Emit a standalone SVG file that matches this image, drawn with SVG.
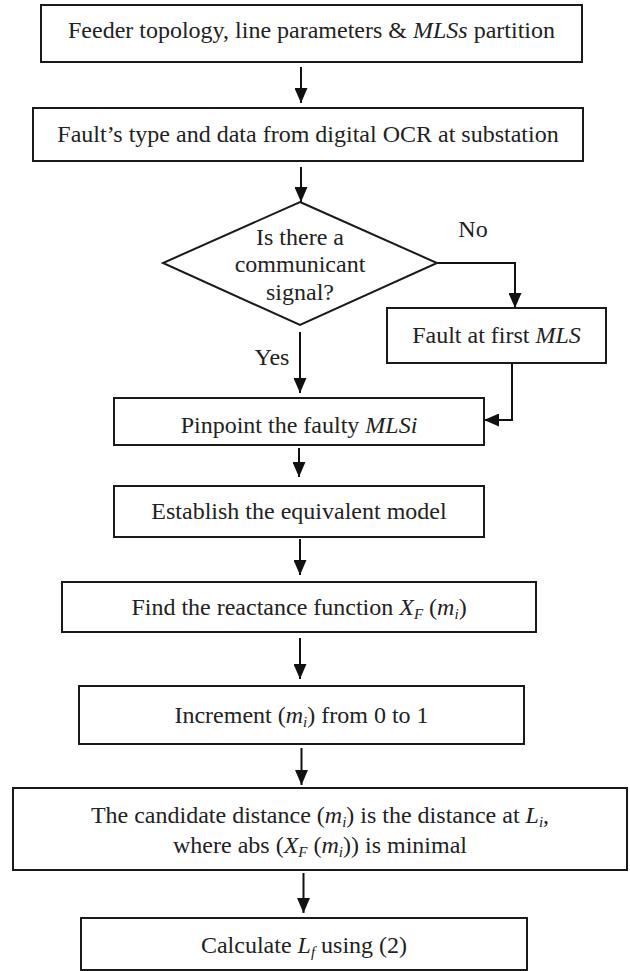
<svg xmlns="http://www.w3.org/2000/svg" width="630" height="971" viewBox="0 0 630 971">
<defs>
<style>
.box{fill:#fff;stroke:#1a1a1a;stroke-width:2}
.t{font-family:"Liberation Serif","Times New Roman",serif;font-size:24px;fill:#222;text-anchor:middle}
.i{font-style:italic}
.s{font-size:15px}
.c{fill:none;stroke:#111;stroke-width:2}
</style>
<marker id="ah" markerUnits="userSpaceOnUse" markerWidth="15" markerHeight="13" refX="15" refY="6.5" orient="auto">
<path d="M0,0 L15,6.5 L0,13 z" fill="#111"/>
</marker>
</defs>
<rect width="630" height="971" fill="#fff"/>

<g id="connectors">
<line class="c" x1="301" y1="67" x2="301" y2="103" marker-end="url(#ah)"/>
<line class="c" x1="301" y1="167" x2="301" y2="202" marker-end="url(#ah)"/>
<line class="c" x1="300" y1="332" x2="300" y2="393" marker-end="url(#ah)"/>
<polyline class="c" points="437,263 515,263 515,308" marker-end="url(#ah)"/>
<polyline class="c" points="512,363 512,420 484,420" marker-end="url(#ah)"/>
<line class="c" x1="299" y1="448" x2="299" y2="477" marker-end="url(#ah)"/>
<line class="c" x1="300" y1="539" x2="300" y2="575" marker-end="url(#ah)"/>
<line class="c" x1="300" y1="638" x2="300" y2="679" marker-end="url(#ah)"/>
<line class="c" x1="301.5" y1="748" x2="301.5" y2="785" marker-end="url(#ah)"/>
<line class="c" x1="303.5" y1="873" x2="303.5" y2="913" marker-end="url(#ah)"/>
<text class="t" x="473" y="237">No</text>
<text class="t" x="272" y="365">Yes</text>
</g>

<g id="n1">
<rect class="box" x="41" y="5" width="541" height="57"/>
<text class="t" x="311.5" y="38">Feeder topology, line parameters &amp; <tspan class="i">MLSs</tspan> partition</text>
</g>

<g id="n2">
<rect class="box" x="33" y="108" width="550" height="53"/>
<text class="t" x="308" y="142">Fault’s type and data from digital OCR at substation</text>
</g>

<g id="n3">
<polygon class="box" points="300,202 437,263 300,325 163,263"/>
<text class="t" x="300" y="245">Is there a</text>
<text class="t" x="300" y="272">communicant</text>
<text class="t" x="300" y="300">signal?</text>
</g>

<g id="n4">
<rect class="box" x="387" y="308" width="219" height="55"/>
<text class="t" x="496.5" y="343">Fault at first <tspan class="i">MLS</tspan></text>
</g>

<g id="n5">
<rect class="box" x="114" y="398" width="370" height="47"/>
<text class="t" x="299" y="433">Pinpoint the faulty <tspan class="i">MLSi</tspan></text>
</g>

<g id="n6">
<rect class="box" x="114" y="486" width="370" height="51"/>
<text class="t" x="299" y="519">Establish the equivalent model</text>
</g>

<g id="n7">
<rect class="box" x="62" y="582" width="474" height="50"/>
<text class="t" x="299" y="615">Find the reactance function <tspan class="i">X</tspan><tspan class="i s" dy="4">F</tspan><tspan dy="-4"> (</tspan><tspan class="i">m</tspan><tspan class="i s" dy="4">i</tspan><tspan dy="-4">)</tspan></text>
</g>

<g id="n8">
<rect class="box" x="79" y="686" width="445" height="58"/>
<text class="t" x="301.5" y="723">Increment (<tspan class="i">m</tspan><tspan class="i s" dy="4">i</tspan><tspan dy="-4">) from 0 to 1</tspan></text>
</g>

<g id="n9">
<rect class="box" x="13" y="788" width="614" height="82"/>
<text class="t" x="320" y="823">The candidate distance (<tspan class="i">m</tspan><tspan class="i s" dy="4">i</tspan><tspan dy="-4">) is the distance at </tspan><tspan class="i">L</tspan><tspan class="i s" dy="4">i</tspan><tspan dy="-4">,</tspan></text>
<text class="t" x="320" y="853">where abs (<tspan class="i">X</tspan><tspan class="i s" dy="4">F</tspan><tspan dy="-4"> (</tspan><tspan class="i">m</tspan><tspan class="i s" dy="4">i</tspan><tspan dy="-4">)) is minimal</tspan></text>
</g>

<g id="n10">
<rect class="box" x="81" y="918" width="446" height="52"/>
<text class="t" x="304" y="953">Calculate <tspan class="i">L</tspan><tspan class="i s" dy="4">f</tspan><tspan dy="-4"> using (2)</tspan></text>
</g>
</svg>
